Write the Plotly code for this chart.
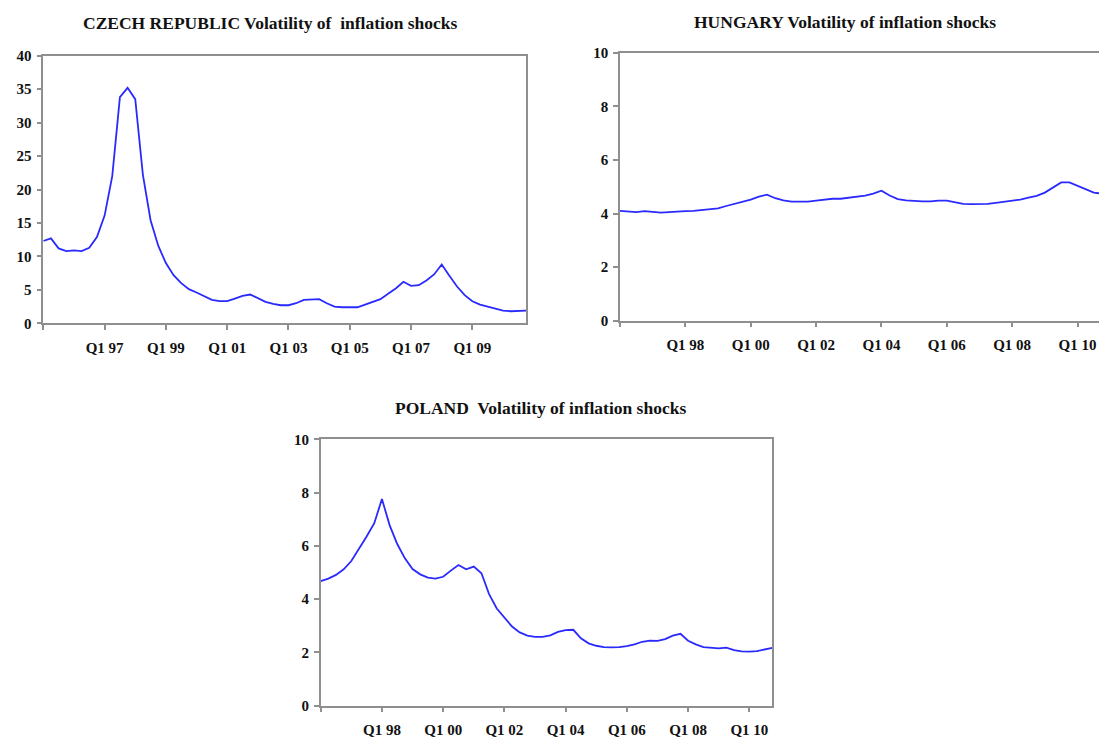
import plotly.graph_objects as go

W, H = 1099, 737
OFF = 0  # body margin removed via post_script

# ---- data (quarterly) ----
czech_start_year = 1995
czech_vals = [12.3, 12.7, 11.2, 10.8, 10.9, 10.8, 11.3, 12.9, 16.1, 22.0,
              33.8, 35.2, 33.5, 22.2, 15.4, 11.6, 9.0, 7.2, 6.0, 5.1,
              4.6, 4.0, 3.5, 3.3, 3.3, 3.7, 4.1, 4.3, 3.8, 3.2,
              2.9, 2.7, 2.7, 3.0, 3.5, 3.5, 3.6, 3.0, 2.5, 2.4,
              2.4, 2.4, 2.8, 3.2, 3.6, 4.4, 5.2, 6.2, 5.6, 5.7,
              6.4, 7.3, 8.8, 7.1, 5.5, 4.2, 3.3, 2.8, 2.5, 2.2,
              1.9, 1.8, 1.8, 1.9]

hungary_start_year = 1996
hungary_vals = [4.10, 4.07, 4.05, 4.09, 4.07, 4.03, 4.05, 4.08, 4.09, 4.10,
                4.13, 4.14, 4.19, 4.28, 4.36, 4.43, 4.52, 4.63, 4.70, 4.57,
                4.49, 4.44, 4.43, 4.44, 4.48, 4.52, 4.55, 4.55, 4.59, 4.62,
                4.67, 4.74, 4.85, 4.67, 4.54, 4.49, 4.46, 4.45, 4.45, 4.48,
                4.48, 4.41, 4.36, 4.35, 4.35, 4.36, 4.40, 4.44, 4.49, 4.52,
                4.59, 4.66, 4.78, 4.96, 5.16, 5.16, 5.03, 4.88, 4.78, 4.74]

poland_start_year = 1996
poland_vals = [4.68, 4.77, 4.91, 5.12, 5.43, 5.87, 6.35, 6.85, 7.76, 6.78,
               6.07, 5.53, 5.13, 4.93, 4.81, 4.77, 4.84, 5.07, 5.28, 5.12,
               5.22, 4.97, 4.19, 3.65, 3.30, 2.97, 2.75, 2.63, 2.58, 2.58,
               2.64, 2.77, 2.84, 2.85, 2.53, 2.34, 2.25, 2.20, 2.19, 2.20,
               2.24, 2.30, 2.40, 2.44, 2.43, 2.50, 2.63, 2.70, 2.44, 2.30,
               2.20, 2.17, 2.15, 2.18, 2.09, 2.04, 2.03, 2.05, 2.10, 2.17]

czech_labels = ["Q1 97", "Q1 99", "Q1 01", "Q1 03", "Q1 05", "Q1 07", "Q1 09"]
hungary_labels = ["Q1 98", "Q1 00", "Q1 02", "Q1 04", "Q1 06", "Q1 08", "Q1 10"]
poland_labels = ["Q1 98", "Q1 00", "Q1 02", "Q1 04", "Q1 06", "Q1 08", "Q1 10"]

titles = ["CZECH REPUBLIC Volatility of  inflation shocks",
          "HUNGARY Volatility of inflation shocks",
          "POLAND  Volatility of inflation shocks"]


def qlabels(start_year, n):
    return [f"Q{i % 4 + 1} {str(start_year + i // 4)[-2:]}" for i in range(n)]


LINE = "#2a2aff"
AX = "#8f8f8f"
FONT = "Liberation Serif"


def px_x(x0, x1):
    return [(x0 - OFF) / W, min(1.0, (x1 - OFF) / W)]


def px_y(top, bottom):
    return [(H - (bottom - OFF)) / H, (H - (top - OFF)) / H]


fig = go.Figure()

panels = [
    dict(vals=czech_vals, start=czech_start_year, labels=czech_labels,
         xd=px_x(43.3, 526), yd=px_y(55.7, 323.3), ymax=40, dy=5,
         xr_end=None, mirror_y=True, title=titles[0], tx=270, ty=23, standoff=5),
    dict(vals=hungary_vals, start=hungary_start_year, labels=hungary_labels,
         xd=px_x(620, W), yd=px_y(52.7, 320.7), ymax=10, dy=2,
         xr_end=(W - 620) / 8.17, mirror_y=False, title=titles[1], tx=845, ty=22,
         standoff=5),
    dict(vals=poland_vals, start=poland_start_year, labels=poland_labels,
         xd=px_x(320.7, 772.3), yd=px_y(439.3, 705.7), ymax=10, dy=2,
         xr_end=None, mirror_y=True, title=titles[2], tx=540, ty=408, standoff=5),
]

for k, p in enumerate(panels, start=1):
    n = len(p["vals"])
    cats = qlabels(p["start"], n)
    xs = list(range(n))
    xname = "x" if k == 1 else f"x{k}"
    yname = "y" if k == 1 else f"y{k}"
    fig.add_trace(go.Scatter(x=xs, y=p["vals"], mode="lines",
                             line=dict(color=LINE, width=1.8),
                             customdata=cats, hovertemplate="%{customdata}: %{y}<extra></extra>",
                             xaxis=xname, yaxis=yname, showlegend=False, cliponaxis=True))
    tickvals = [i for i in range(0, n, 8)]
    ticktext = [""] + [c for c in cats[8::8]]
    ticktext = [t if (t == "" or t in p["labels"]) else "" for t in ticktext]
    xr_end = p["xr_end"] if p["xr_end"] is not None else n - 1
    xa = dict(domain=p["xd"], anchor=yname, range=[0, xr_end], automargin=False,
              tickmode="array", tickvals=tickvals, ticktext=ticktext,
              showgrid=False, zeroline=False, showline=True, linecolor=AX, linewidth=1.5,
              mirror=True, ticks="outside", ticklen=5, tickcolor=AX, tickwidth=1.5,
              ticklabelstandoff=p["standoff"],
              tickfont=dict(family=FONT, size=15, color="#111", weight="bold"))
    ya = dict(domain=p["yd"], anchor=xname, range=[0, p["ymax"]], automargin=False,
              tickmode="linear", tick0=0, dtick=p["dy"],
              showgrid=False, zeroline=False, showline=True, linecolor=AX, linewidth=1.5,
              mirror=p["mirror_y"], ticks="outside", ticklen=5, tickcolor=AX, tickwidth=1.5,
              ticklabelstandoff=2,
              tickfont=dict(family=FONT, size=15, color="#111", weight="bold"))
    fig.update_layout(**{("xaxis" if k == 1 else f"xaxis{k}"): xa,
                         ("yaxis" if k == 1 else f"yaxis{k}"): ya})
    fig.add_annotation(x=(p["tx"] - OFF) / W, y=(H - (p["ty"] - OFF)) / H,
                       xref="paper", yref="paper",
                       text=f"<b>{p['title']}</b>", showarrow=False,
                       xanchor="center", yanchor="middle",
                       font=dict(family=FONT, size=17.5, color="#111"))

fig.update_layout(template="none", width=W, height=H,
                  margin=dict(l=0, r=0, t=0, b=0, autoexpand=False),
                  paper_bgcolor="white", plot_bgcolor="white")

fig.write_html("out.html",
               config={"displayModeBar": False},
               post_script="document.body.style.margin='0';"
                           "document.documentElement.style.overflow='hidden';")
